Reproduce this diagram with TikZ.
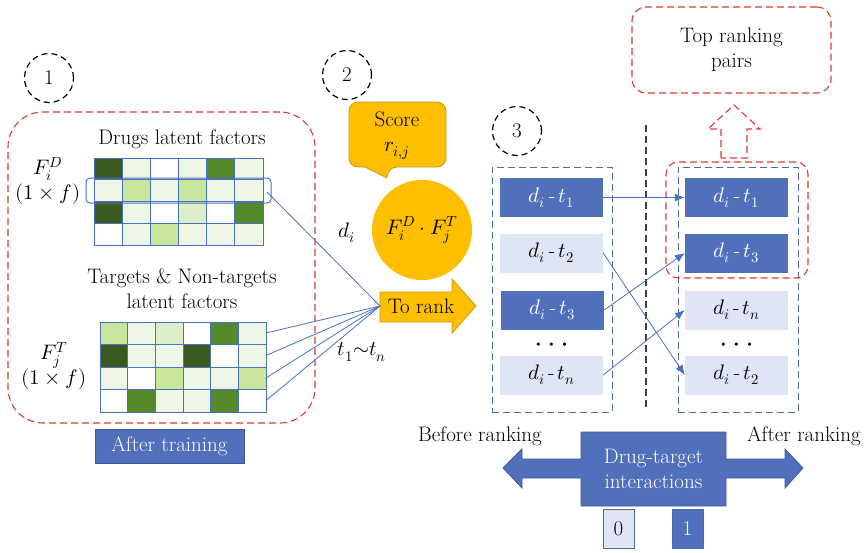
\documentclass[tikz,border=0pt]{standalone}
\usepackage{fontspec}
\usepackage{unicode-math}
\setmathfont{Latin Modern Math}
\usetikzlibrary{arrows.meta}
\definecolor{dkblue}{HTML}{5070BB}
\definecolor{ltblue}{HTML}{DEE5F4}
\definecolor{lineblue}{HTML}{4A70C0}
\definecolor{boxblue}{HTML}{4F68A8}
\definecolor{redc}{HTML}{DD3A33}
\definecolor{gold}{HTML}{FDBF00}
\definecolor{goldb}{HTML}{C99A10}
\definecolor{cD}{HTML}{3A5A22}
\definecolor{cM}{HTML}{548A2A}
\definecolor{cG}{HTML}{C8E69C}
\definecolor{cP}{HTML}{DCEFC6}
\definecolor{cL}{HTML}{EEF7E6}
\definecolor{cW}{HTML}{FFFFFF}
\tikzset{
  numcirc/.style={circle, draw=black, dash pattern=on 6pt off 4pt, line width=1.2pt, minimum size=49pt, inner sep=0pt},
  redbox/.style={draw=redc, dash pattern=on 7pt off 4pt, line width=1.1pt},
  bluebox/.style={draw=boxblue, dash pattern=on 7pt off 4pt, line width=1pt, inner sep=0pt},
  item/.style={minimum width=103pt, minimum height=39pt, inner sep=0pt},
  darkitem/.style={item, fill=dkblue, text=white},
  lightitem/.style={item, fill=ltblue, text=black},
  link/.style={draw=lineblue, line width=0.8pt},
  rankarrow/.style={link, -{Latex[length=10pt,width=8pt]}},
  cell/.style={draw=lineblue, line width=0.9pt},
  label/.style={align=center, inner sep=0pt},
  dotsnode/.style={align=center, inner sep=0pt, font=\fontsize{12}{14}\selectfont},
}
\begin{document}
\begin{tikzpicture}[x=1pt,y=-1pt, font=\fontsize{21}{25}\selectfont]
\useasboundingbox (0,0) rectangle (866,552);

% ---- numbered circles
\node[numcirc] (c1) at (49,78) {1};
\node[numcirc] (c2) at (347,75) {2};
\node[numcirc] (c3) at (517,131) {3};

% ---- section 1
\node[redbox, rounded corners=35pt, minimum width=307pt, minimum height=311pt, inner sep=0pt] (trainbox) at (161.5,267.5) {};
\node[label] (drugtitle) at (182,139) {Drugs latent factors};
\foreach \c [count=\i from 0] in {D,L,W,L,M,L, L,G,L,G,L,L, D,L,W,P,W,M, W,L,G,L,L,L}{
  \pgfmathtruncatemacro{\col}{mod(\i,6)}
  \pgfmathtruncatemacro{\row}{div(\i,6)}
  \filldraw[cell, fill=c\c] (94+\col*28.17, 158+\row*21.75) rectangle ++(28.17,21.75);
}
\node[draw=lineblue, line width=1pt, rounded corners=4pt, minimum width=185pt, minimum height=25pt, inner sep=0pt] (hl) at (178.5,190.5) {};
\node[label] (fd) at (48,181) {$F_i^D$\\$(1\times f)$};

\node[label] (targtitle) at (182,289) {Targets \& Non-targets\\latent factors};
\foreach \c [count=\i from 0] in {G,L,P,W,M,L, D,L,L,D,W,L, L,W,G,L,L,G, W,M,L,L,M,W}{
  \pgfmathtruncatemacro{\col}{mod(\i,6)}
  \pgfmathtruncatemacro{\row}{div(\i,6)}
  \filldraw[cell, fill=c\c] (100+\col*27.67, 322+\row*22.5) rectangle ++(27.67,22.5);
}
\node[label] (ft) at (54,366) {$F_j^T$\\$(1\times f)$};

\node[fill=dkblue, draw=dkblue!80!black, text=white, minimum width=149pt, minimum height=34pt, inner sep=0pt] (after) at (169.5,446) {After training};

% ---- section 2
\draw[fill=gold, draw=goldb, line width=0.8pt] (388,167) -- (387,178) -- (365,167) [rounded corners=9pt] -- (349,167) -- (349,102) -- (446,102) -- (446,167) -- cycle;
\node[label] (score) at (397,136) {Score\\$r_{i,j}$};
\node[circle, fill=gold, minimum size=100pt, inner sep=0pt] (prod) at (422,230) {$F_i^D\cdot F_j^T$};
\draw[fill=gold, draw=goldb, line width=0.8pt] (380,292) -- (452,292) -- (452,279) -- (476,306) -- (452,333) -- (452,322) -- (380,322) -- cycle;
\node[label] (torank) at (421,306) {To rank};
\coordinate (rankin) at (380,306);

\coordinate (d1) at (267,192);
\coordinate (r1) at (266,333);
\coordinate (r2) at (266,355.5);
\coordinate (r3) at (266,378);
\coordinate (r4) at (266,400.5);
\draw[link] (d1) -- (rankin);
\foreach \r in {r1,r2,r3,r4} \draw[link] (\r) -- (rankin);
\node[label] (di) at (347,233) {$d_i$};
\node[label] (tn) at (362,352) {$t_1{\sim}t_n$};

% ---- section 3
\node[bluebox, minimum width=120pt, minimum height=245pt] (before) at (552,289.5) {};
\node[bluebox, minimum width=120pt, minimum height=245pt] (afterb) at (738,289.5) {};
\coordinate (vtop) at (646,125);
\coordinate (vbot) at (646,410);
\draw[black!75, dash pattern=on 7pt off 4pt, line width=1.1pt] (vtop) -- (vbot);

\node[darkitem]  (L1) at (551.5,197.5) {$d_i$\,-\,$t_1$};
\node[lightitem] (L2) at (551.5,253)   {$d_i$\,-\,$t_2$};
\node[darkitem]  (L3) at (552.5,310)   {$d_i$\,-\,$t_3$};
\node[dotsnode] (Ld) at (551.5,345) {\textbullet\hspace{4pt}\textbullet\hspace{4pt}\textbullet};
\node[lightitem] (Ln) at (551.5,375)   {$d_i$\,-\,$t_n$};

\node[darkitem]  (R1) at (736.5,197.5) {$d_i$\,-\,$t_1$};
\node[darkitem]  (R3) at (736.5,253)   {$d_i$\,-\,$t_3$};
\node[lightitem] (Rn) at (736.5,310)   {$d_i$\,-\,$t_n$};
\node[dotsnode] (Rd) at (736.5,345) {\textbullet\hspace{4pt}\textbullet\hspace{4pt}\textbullet};
\node[lightitem] (R2) at (736.5,375)   {$d_i$\,-\,$t_2$};

\draw[rankarrow] (L1.east) -- (R1.west);
\draw[rankarrow] (L2.east) -- (R2.west);
\draw[rankarrow] (L3.east) -- (R3.west);
\draw[rankarrow] (Ln.east) -- (Rn.west);

\node[redbox, rounded corners=12pt, minimum width=142pt, minimum height=116pt, inner sep=0pt] (topsel) at (737,220) {};
\draw[redbox] (721,158) -- (721,129) -- (708,129) -- (734,105) -- (760,129) -- (747,129) -- (747,158) -- cycle;
\node[redbox, rounded corners=14pt, minimum width=199pt, minimum height=86pt, align=center] (toppairs) at (731.5,50) {Top ranking\\pairs};

% ---- bottom legend
\node[label] (beforelbl) at (480,436) {Before ranking};
\node[label] (afterlbl) at (804,436) {After ranking};
\draw[fill=dkblue, draw=dkblue!80!black, line width=0.8pt] (503,468) -- (522,449) -- (522,459) -- (581,459) -- (581,432) -- (726,432) -- (726,459) -- (785,459) -- (785,449) -- (803,468) -- (785,488) -- (785,478) -- (726,478) -- (726,506) -- (581,506) -- (581,478) -- (522,478) -- (522,488) -- cycle;
\node[label, text=white] (dti) at (653.5,469) {Drug-target\\interactions};
\node[fill=ltblue, draw=boxblue, line width=0.8pt, minimum width=31pt, minimum height=39pt, inner sep=0pt] (zero) at (618.5,528.5) {0};
\node[fill=dkblue, draw=boxblue, line width=0.8pt, minimum width=31pt, minimum height=39pt, inner sep=0pt, text=white] (one) at (687.5,528.5) {1};
\end{tikzpicture}
\end{document}
